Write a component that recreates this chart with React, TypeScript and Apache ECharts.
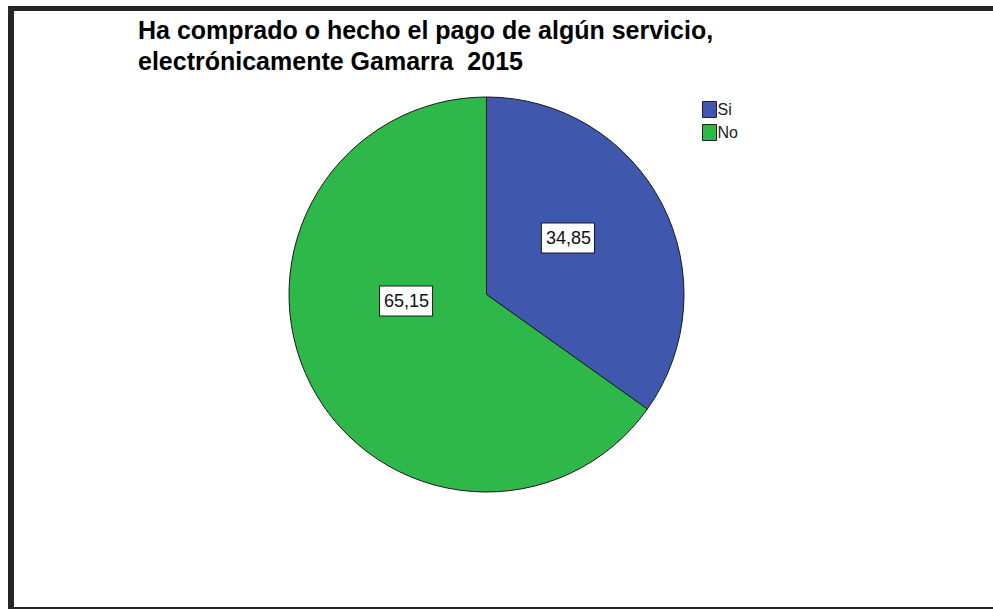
import React, { useEffect, useRef } from "react";
import * as echarts from "echarts";

const titleLines = ["Ha comprado o hecho el pago de algún servicio,", "electrónicamente Gamarra  2015"];
const categories = ["Si", "No"];
const values = [34.85, 65.15];
const colors = ["#3F57AC", "#2FB84A"];
const labelShift = [
  [-9, -10],
  [10, -40],
];

export default function App() {
  const ref = useRef<HTMLDivElement>(null);
  useEffect(() => {
    document.body.style.margin = "0";
    const chart = echarts.init(ref.current!, null, { renderer: "svg" });
    const font = "'Liberation Sans', Arial, sans-serif";
    chart.setOption({
      animation: false,
      backgroundColor: "#ffffff",
      title: {
        text: titleLines.join("\n"),
        left: 133,
        top: 9,
        textStyle: {
          fontFamily: font,
          fontSize: 25,
          fontWeight: "bold",
          color: "#000000",
          lineHeight: 31,
        },
      },
      legend: {
        orient: "vertical",
        left: 697,
        top: 96,
        icon: "rect",
        itemWidth: 14,
        itemHeight: 16,
        itemGap: 6,
        data: categories,
        itemStyle: { borderColor: "#222222", borderWidth: 1 },
        textStyle: { fontFamily: font, fontSize: 16, color: "#222222", padding: [0, 0, 0, -4] },
      },
      graphic: [
        { type: "rect", shape: { x: 8, y: 6, width: 6, height: 603 }, style: { fill: "#262626" } },
        { type: "rect", shape: { x: 8, y: 6, width: 985, height: 5 }, style: { fill: "#262626" } },
        { type: "rect", shape: { x: 8, y: 607, width: 985, height: 2 }, style: { fill: "#262626" } },
      ],
      series: [
        {
          type: "pie",
          center: [486.5, 294.5],
          radius: [0, 197.5],
          startAngle: 90,
          clockwise: true,
          data: categories.map((c, i) => ({
            name: c,
            value: values[i],
            itemStyle: { color: colors[i] },
          })),
          itemStyle: { borderColor: "#1a1a1a", borderWidth: 1 },
          label: {
            show: true,
            position: "inside",
            formatter: (p: any) => String(p.value).replace(".", ","),
            fontFamily: font,
            fontSize: 18,
            color: "#111111",
            backgroundColor: "#ffffff",
            borderColor: "#1a1a1a",
            borderWidth: 1,
            padding: [6, 3, 5, 4],
          },
          labelLayout: (p: any) => ({ dx: labelShift[p.dataIndex][0], dy: labelShift[p.dataIndex][1] }),
          labelLine: { show: false },
          emphasis: { disabled: true },
        },
      ],
    });
    return () => chart.dispose();
  }, []);
  return <div ref={ref} style={{ width: 993, height: 609 }} />;
}
